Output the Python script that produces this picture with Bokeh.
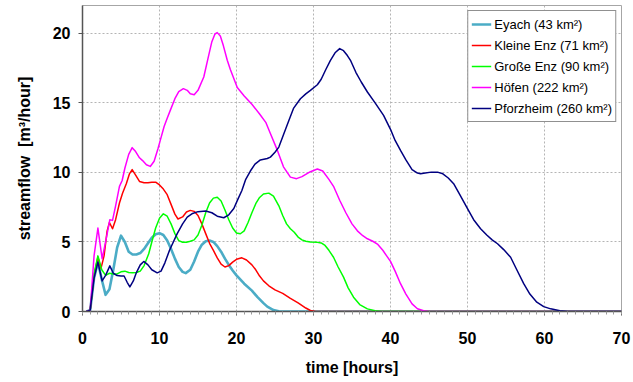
from bokeh.plotting import figure
from bokeh.models import FixedTicker, Legend, LegendItem, Range1d
from bokeh.embed import file_html
from bokeh.resources import INLINE

# ---- data (time in hours, streamflow in m3/hour) ----
eyach_t = [0.5, 1.0, 1.5, 2.0, 2.5, 3.0, 3.5, 4.0, 4.5, 5.0, 5.5, 6.0, 6.5, 7.0, 7.5, 8.0, 8.5, 9.0, 9.5, 10.0,
           10.5, 11.0, 11.5, 12.0, 12.5, 13.0, 13.4, 14.0, 14.5, 15.0, 15.5, 16.0, 16.5, 17.0, 17.5, 18.0, 18.5,
           19.0, 19.5, 20.0, 21.0, 22.0, 22.7, 23.5, 24.0, 24.8, 25.5, 26.0, 70.0]
eyach_q = [0, 0.1, 2.4, 3.55, 2.3, 1.2, 1.6, 3.0, 4.6, 5.45, 5.0, 4.3, 4.1, 4.1, 4.2, 4.5, 4.9, 5.3, 5.55, 5.63,
           5.5, 5.1, 4.5, 3.8, 3.2, 2.85, 2.76, 3.0, 3.6, 4.3, 4.8, 5.05, 5.1, 5.0, 4.7, 4.3, 3.8,
           3.35, 2.95, 2.6, 2.0, 1.5, 1.05, 0.6, 0.35, 0.1, 0.02, 0, 0]

kleine_t = [0.5, 1.0, 1.5, 2.0, 2.4, 2.8, 3.2, 3.5, 3.9, 4.3, 4.8, 5.2, 5.7, 6.1, 6.45, 6.9, 7.4, 8.0, 8.5, 9.0,
            9.5, 10.0, 10.5, 11.0, 11.5, 12.0, 12.4, 13.0, 13.5, 14.0, 14.5, 15.0, 15.5, 16.0, 16.5, 17.0, 17.5,
            18.0, 18.5, 19.0, 19.5, 20.0, 20.7, 21.3, 22.0, 22.5, 23.0, 23.5, 24.2, 25.0, 26.0, 27.0, 28.0, 29.0,
            29.6, 30.3, 70.0]
kleine_q = [0, 0.1, 2.6, 3.9, 3.1, 4.0, 5.8, 6.4, 5.95, 6.6, 7.8, 8.5, 9.2, 9.9, 10.2, 9.8, 9.35, 9.25, 9.25, 9.3,
            9.3, 9.1, 8.8, 8.4, 7.7, 7.0, 6.65, 6.8, 7.15, 7.27, 7.2, 6.9, 6.3, 5.6, 4.9, 4.4, 3.85,
            3.4, 3.2, 3.3, 3.55, 3.75, 3.86, 3.7, 3.35, 3.0, 2.55, 2.2, 1.85, 1.55, 1.3, 0.95, 0.62, 0.25,
            0.07, 0, 0]

grosse_t = [0.5, 1.0, 1.5, 2.0, 2.5, 3.0, 3.5, 4.0, 4.5, 5.0, 5.5, 6.0, 6.5, 7.0, 7.5, 8.0, 8.6, 9.0, 9.5, 10.0,
            10.5, 11.0, 11.5, 12.0, 12.5, 13.0, 13.5, 14.0, 14.5, 15.0, 15.5, 16.0, 16.5, 17.0, 17.5, 18.0, 18.5,
            19.0, 19.5, 20.0, 20.5, 21.0, 21.5, 22.0, 22.5, 23.0, 23.5, 24.2, 24.8, 25.5, 26.0, 26.5, 27.0, 27.5,
            28.0, 28.5, 29.0, 29.6, 30.5, 31.0, 31.5, 32.0, 32.6, 33.2, 33.9, 34.5, 35.2, 36.0, 37.0, 38.0, 38.8,
            70.0]
grosse_q = [0, 0.1, 2.7, 4.0, 3.0, 2.6, 2.75, 2.7, 2.7, 2.85, 2.9, 2.8, 2.78, 2.8, 2.9, 3.3, 4.15, 5.0, 6.0, 6.7,
            7.02, 6.85, 6.3, 5.6, 5.1, 4.98, 4.98, 5.05, 5.15, 5.5, 6.2, 7.1, 7.8, 8.15, 8.22, 7.95, 7.3,
            6.6, 6.0, 5.65, 5.59, 5.8, 6.4, 7.1, 7.75, 8.2, 8.45, 8.51, 8.3, 7.6, 6.9, 6.3, 5.95, 5.7,
            5.35, 5.15, 5.05, 4.99, 4.97, 4.93, 4.75, 4.4, 3.9, 3.2, 2.47, 1.7, 1.03, 0.5, 0.19, 0.05, 0,
            0]

hoefen_t = [0.5, 1.0, 1.5, 2.0, 2.55, 3.0, 3.55, 3.9, 4.3, 4.8, 5.15, 5.5, 6.0, 6.45, 6.9, 7.4, 7.8, 8.3, 8.8, 9.3,
            9.8, 10.1, 10.6, 11.0, 11.4, 12.0, 12.5, 13.1, 13.6, 14.0, 14.5, 15.0, 15.75, 16.3, 16.8, 17.2, 17.5,
            17.9, 18.3, 18.8, 19.2, 20.1, 21.0, 22.0, 23.0, 23.8, 24.4, 25.3, 26.1, 27.0, 27.8, 28.5, 29.6, 30.5,
            31.2, 32.0, 32.6, 33.4, 34.2, 35.0, 35.7, 36.4, 37.0, 37.7, 38.3, 39.0, 39.5, 40.0, 40.6, 41.3, 42.0,
            42.8, 43.5, 44.3, 45.0, 70.0]
hoefen_q = [0, 0.1, 4.0, 6.0, 3.8, 5.0, 6.6, 6.55, 7.6, 9.0, 9.42, 10.3, 11.3, 11.78, 11.5, 11.05, 10.85, 10.55,
            10.43, 10.8, 11.7, 12.3, 13.3, 13.9, 14.46, 15.3, 15.8, 16.02, 15.9, 15.65, 15.59, 15.9, 16.86, 18.2,
            19.4, 19.95, 20.05, 19.8, 19.1, 18.06, 17.4, 16.1, 15.5, 14.9, 14.2, 13.6, 12.8, 11.6, 10.4, 9.66,
            9.55, 9.7, 10.05, 10.25, 10.1, 9.5, 9.0, 8.0, 7.1, 6.3, 5.8, 5.45, 5.23, 5.05, 4.85, 4.4, 4.0, 3.6,
            2.9, 2.0, 1.25, 0.55, 0.2, 0.05, 0, 0]

pforz_t = [0.5, 1.0, 1.5, 2.0, 2.55, 3.0, 3.55, 4.0, 4.5, 5.0, 5.4, 5.8, 6.15, 6.6, 7.0, 7.5, 7.96, 8.5, 9.0, 9.7,
           10.2, 10.7, 11.3, 12.3, 13.0, 13.6, 14.3, 15.0, 16.0, 16.8, 17.5, 18.35, 19.0, 19.65, 20.2, 20.7, 21.2,
           21.8, 22.4, 23.1, 24.0, 24.4, 25.0, 25.5, 26.1, 26.8, 27.4, 28.3, 29.0, 29.6, 30.5, 31.0, 31.6, 32.2,
           32.8, 33.4, 33.9, 34.4, 34.8, 35.5, 36.2, 37.0, 38.0, 39.1, 40.0, 40.6, 41.3, 42.0, 42.8, 43.5, 43.9,
           44.5, 45.3, 46.1, 46.8, 47.5, 48.2, 49.0, 50.0, 50.8, 51.7, 52.5, 53.2, 53.9, 54.7, 55.6, 56.4, 57.3,
           58.1, 59.0, 59.9, 60.8, 62.0, 63.0, 70.0]
pforz_q = [0, 0.1, 2.4, 3.55, 2.2, 2.6, 3.28, 2.75, 2.58, 2.55, 2.55, 2.1, 1.77, 2.2, 2.8, 3.35, 3.6, 3.35, 3.0, 2.78,
           2.9, 3.5, 4.4, 5.6, 6.3, 6.78, 7.05, 7.18, 7.22, 7.1, 6.85, 6.74, 6.95, 7.4, 8.1, 8.7, 9.5,
           10.1, 10.6, 10.9, 11.0, 11.1, 11.45, 11.82, 12.7, 13.74, 14.6, 15.3, 15.65, 15.9, 16.3, 16.7, 17.4, 18.06,
           18.6, 18.9, 18.75, 18.4, 18.06, 17.2, 16.5, 15.78, 15.0, 14.1, 13.1, 12.3, 11.58, 10.9, 10.2, 9.95, 9.9,
           9.95, 10.02, 10.02, 9.9, 9.6, 9.19, 8.4, 7.39, 6.6, 5.95, 5.5, 5.15, 4.87, 4.45, 3.9, 3.0, 2.0,
           1.25, 0.67, 0.35, 0.19, 0.05, 0, 0]

series_names = ["Eyach (43 km²)", "Kleine Enz (71 km²)", "Große Enz (90 km²)",
                "Höfen (222 km²)", "Pforzheim (260 km²)"]
x_ticks = [0, 10, 20, 30, 40, 50, 60, 70]
y_ticks = [0, 5, 10, 15, 20]

FONT = "Liberation Sans"

p = figure(width=633, height=382, output_backend="svg", toolbar_location=None,
           x_range=Range1d(0, 70), y_range=Range1d(0, 22),
           min_border_left=82, min_border_right=12, min_border_top=5, min_border_bottom=71)
p.background_fill_color = "white"
p.border_fill_color = "white"
p.outline_line_color = "#a6a6a6"
p.outline_line_width = 1

series = [
    (eyach_t, eyach_q, "#4BACC6", 2.6),
    (kleine_t, kleine_q, "#FF0000", 1.5),
    (grosse_t, grosse_q, "#00FF00", 1.5),
    (hoefen_t, hoefen_q, "#FF00FF", 1.5),
    (pforz_t, pforz_q, "#000080", 1.5),
]
items = []
for (t, q, c, w), name in zip(series, series_names):
    r = p.line(t, q, line_color=c, line_width=w, line_join="round")
    items.append(LegendItem(label=name, renderers=[r]))

# axes
p.xaxis.ticker = FixedTicker(ticks=x_ticks, minor_ticks=list(range(0, 71)))
p.yaxis.ticker = FixedTicker(ticks=y_ticks)
for ax in (p.xaxis, p.yaxis):
    ax.axis_line_color = "#555555"
    ax.axis_line_width = 1.5
    ax.major_tick_line_color = "#555555"
    ax.major_tick_in = 0
    ax.major_tick_out = 4
    ax.major_label_text_font = FONT
    ax.major_label_text_font_style = "bold"
    ax.major_label_text_font_size = "16px"
    ax.major_label_text_color = "black"
    ax.axis_label_text_font = FONT
    ax.axis_label_text_font_style = "bold"
    ax.axis_label_text_font_size = "16px"
    ax.axis_label_text_color = "black"
p.xaxis.minor_tick_line_color = "#999999"
p.xaxis.minor_tick_in = 0
p.xaxis.minor_tick_out = 3
p.yaxis.minor_tick_line_color = None
p.xaxis.major_label_standoff = 16
p.yaxis.major_label_standoff = 8
p.xaxis.axis_label = "time [hours]"
p.yaxis.axis_label = "streamflow \u00a0[m³/hour]"
p.xaxis.axis_label_standoff = 12
p.yaxis.axis_label_standoff = 17

# grid
for g in (p.xgrid, p.ygrid):
    g.grid_line_color = "#b4b4b4"
    g.grid_line_dash = "2 2"
    g.grid_line_width = 1

legend = Legend(items=items, location="top_right")
legend.margin = 5
legend.padding = 3
legend.spacing = 1
legend.label_height = 20
legend.glyph_height = 20
legend.glyph_width = 20
legend.label_standoff = 3
legend.label_text_font = FONT
legend.label_text_font_size = "13px"
legend.label_text_color = "black"
legend.border_line_color = "#222222"
legend.border_line_width = 1
legend.background_fill_color = "white"
legend.background_fill_alpha = 1.0
p.add_layout(legend)

open("out.html", "w").write(file_html(p, INLINE))
